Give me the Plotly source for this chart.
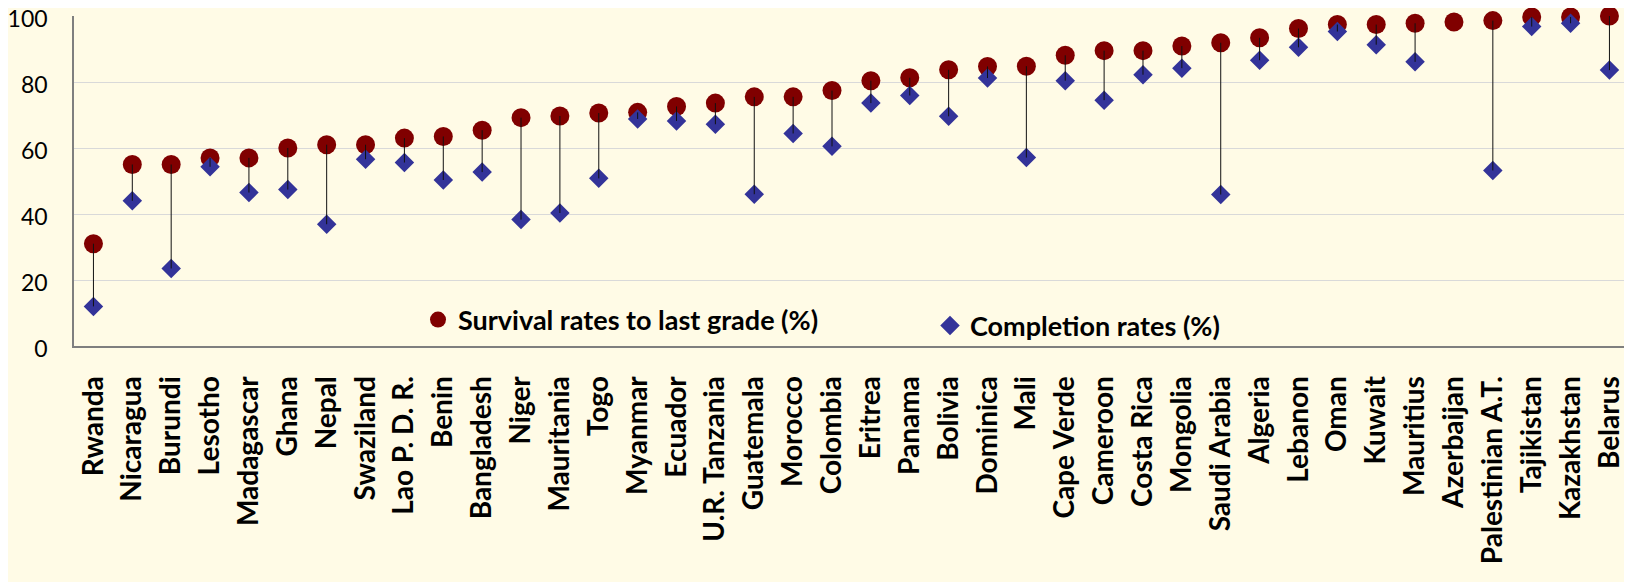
import plotly.graph_objects as go

countries = ["Rwanda", "Nicaragua", "Burundi", "Lesotho", "Madagascar", "Ghana", "Nepal",
             "Swaziland", "Lao P. D. R.", "Benin", "Bangladesh", "Niger", "Mauritania", "Togo",
             "Myanmar", "Ecuador", "U.R. Tanzania", "Guatemala", "Morocco", "Colombia",
             "Eritrea", "Panama", "Bolivia", "Dominica", "Mali", "Cape Verde", "Cameroon",
             "Costa Rica", "Mongolia", "Saudi Arabia", "Algeria", "Lebanon", "Oman", "Kuwait",
             "Mauritius", "Azerbaijan", "Palestinian A.T.", "Tajikistan", "Kazakhstan", "Belarus"]

survival = [31, 55, 55, 57, 57, 60, 61, 61, 63, 63.5, 65.4, 69.2, 69.7, 70.6, 70.8, 72.6,
            73.6, 75.5, 75.5, 77.4, 80.4, 81.3, 83.7, 84.7, 84.8, 88.1, 89.5, 89.5, 90.9,
            91.9, 93.4, 96.2, 97.4, 97.4, 97.8, 98.2, 98.6, 99.7, 99.7, 100]

completion = [12, 44, 23.5, 54.3, 46.5, 47.4, 36.9, 56.6, 55.6, 50.3, 52.7, 38.3, 40.3, 50.8,
              68.8, 68.2, 67.2, 46, 64.4, 60.5, 73.6, 75.9, 69.6, 81.2, 57.1, 80.4, 74.5,
              82.2, 84.2, 45.9, 86.6, 90.5, 95.3, 91.3, 86.1, None, 53.2, 96.8, 97.8, 83.6]

y_ticks = [0, 20, 40, 60, 80, 100]

# connector lines between the two series
lx, ly = [], []
for c, s, v in zip(countries, survival, completion):
    if v is None:
        continue
    lx += [c, c, None]
    ly += [s, v, None]

fig = go.Figure()
fig.add_trace(go.Scatter(
    x=countries, y=survival, mode="markers", name="Survival rates to last grade (%)",
    marker=dict(symbol="circle", size=19, color="#800000"), cliponaxis=False,
    legend="legend"))
fig.add_trace(go.Scatter(
    x=countries, y=completion, mode="markers", name="Completion rates (%)",
    marker=dict(symbol="diamond", size=15, color="#333399"), cliponaxis=False,
    legend="legend2"))
fig.add_trace(go.Scatter(
    x=lx, y=ly, mode="lines", line=dict(color="#111111", width=1),
    showlegend=False, hoverinfo="skip", cliponaxis=False))

# page body has an 8px margin: lay out in figure coordinates shifted by 8px
OFF = 8
W, H = 1632 - OFF, 582 - OFF
L = 74 - OFF
T = 16 - OFF
y0 = 346 - OFF          # bottom of plot area (figure coords)
B = H - y0
R = 0
pw = W - L - R
ph = H - T - B

legend_font = dict(family="Lato", size=27, color="#000000", weight="bold")

fig.update_layout(
    width=W, height=H,
    margin=dict(l=L, r=R, t=T, b=B, pad=0, autoexpand=False),
    paper_bgcolor="#FFFBE6", plot_bgcolor="#FFFBE6",
    font=dict(family="Lato", color="#000000"),
    legend=dict(x=(418 - OFF - L) / pw, y=(y0 - (320 - OFF)) / ph, xanchor="left",
                yanchor="middle", bgcolor="rgba(0,0,0,0)", font=legend_font),
    legend2=dict(x=(930 - OFF - L) / pw, y=(y0 - (326 - OFF)) / ph, xanchor="left",
                 yanchor="middle", bgcolor="rgba(0,0,0,0)", font=legend_font),
    xaxis=dict(
        type="category", categoryorder="array", categoryarray=countries,
        range=[-0.5, 39.58], tickangle=-90, showgrid=False, automargin=False,
        showline=True, linecolor="#7f7f7f", linewidth=2,
        ticks="", ticklabelstandoff=17, ticklabeloverflow="allow",
        tickfont=dict(family="Lato", size=28, color="#000000", weight="bold"),
    ),
    yaxis=dict(
        range=[0, 100], tickvals=y_ticks, showgrid=True, gridcolor="#D9D9D9", gridwidth=1,
        showline=True, linecolor="#7f7f7f", linewidth=1.5, zeroline=False,
        ticks="", ticklabelstandoff=20, ticklabelshift=3, automargin=False,
        ticklabeloverflow="allow",
        tickfont=dict(family="Lato", size=23, color="#000000"),
    ),
)

fig.write_html("out.html")
